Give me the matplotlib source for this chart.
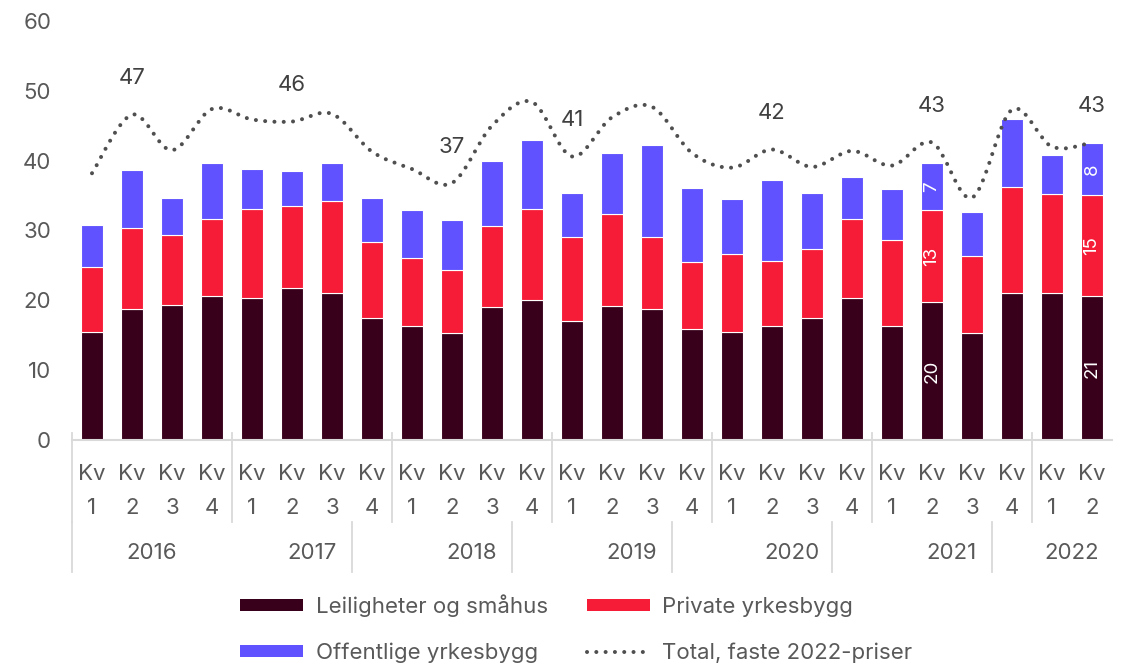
import numpy as np
import matplotlib
matplotlib.use('Agg')
import matplotlib.pyplot as plt
import matplotlib.transforms as mtransforms
from matplotlib.path import Path
from matplotlib.patches import PathPatch, Patch
from matplotlib.lines import Line2D

plt.rcParams['font.family'] = ['Inter', 'DejaVu Sans']

##===========================================
# Data (mrd. kr per kvartal)
##===========================================
years = ['2016', '2017', '2018', '2019', '2020', '2021', '2022']
quarters = [1, 2, 3, 4] * 6 + [1, 2]

leiligheter = [15.5, 18.8, 19.3, 20.6, 20.3, 21.8, 21.1, 17.5, 16.3, 15.3, 19.0, 20.0, 17.1,
               19.2, 18.7, 15.9, 15.5, 16.3, 17.4, 20.3, 16.3, 19.7, 15.3, 21.1, 21.0, 20.55]
private = [9.3, 11.6, 10.1, 11.0, 12.8, 11.7, 13.1, 10.8, 9.7, 9.1, 11.6, 13.1, 12.0,
           13.1, 10.3, 9.6, 11.1, 9.3, 9.9, 11.4, 12.3, 13.2, 11.1, 15.2, 14.2, 14.51]
offentlige = [6.0, 8.3, 5.3, 8.0, 5.7, 5.0, 5.4, 6.3, 6.9, 7.1, 9.4, 9.8, 6.3,
              8.8, 13.2, 10.6, 7.9, 11.7, 8.0, 5.9, 7.4, 6.7, 6.3, 9.6, 5.6, 7.5]
total_faste = [38.2, 46.6, 41.5, 47.4, 45.9, 45.6, 46.7, 41.3, 38.8, 36.8, 45.0, 48.4, 40.6,
               46.2, 47.7, 41.1, 39.0, 41.6, 39.1, 41.4, 39.3, 42.6, 34.7, 47.3, 42.0, 42.6]

total_label_idx = [1, 5, 9, 12, 17, 21, 25]
segment_label_idx = [21, 25]

labels = ['Leiligheter og småhus', 'Private yrkesbygg', 'Offentlige yrkesbygg',
          'Total, faste 2022-priser']
c_dark = '#38001a'
c_red = '#f61c37'
c_blue = '#6053ff'
c_line = '#4f4f4f'
c_text = '#595959'
c_grid = '#d9d9d9'
fs = 16

##===========================================
# Figure
##===========================================
fig = plt.figure(figsize=(11.32, 6.68), dpi=100)
ax = fig.add_axes([72 / 1132, 1 - 440 / 668, (1112 - 72) / 1132, (440 - 21) / 668])

x = np.arange(len(quarters))
d1 = np.array(leiligheter)
d2 = np.array(private)
d3 = np.array(offentlige)
width = 0.57

p1 = ax.bar(x, d1, width, color=c_dark, edgecolor='white', linewidth=0.8)
p2 = ax.bar(x, d2, width, bottom=d1, color=c_red, edgecolor='white', linewidth=0.8)
p3 = ax.bar(x, d3, width, bottom=d1 + d2, color=c_blue, edgecolor='white', linewidth=0.8)

# smoothed dotted total line (bezier through the points)
tot = np.array(total_faste)
pts = np.column_stack([x, tot])
verts = [pts[0]]
codes = [Path.MOVETO]
n = len(pts)
for i in range(n - 1):
    p0 = pts[max(i - 1, 0)]
    pa = pts[i]
    pb = pts[i + 1]
    p3_ = pts[min(i + 2, n - 1)]
    c1 = pa + (pb - p0) / 6.0
    c2 = pb - (p3_ - pa) / 6.0
    verts += [c1, c2, pb]
    codes += [Path.CURVE4] * 3
line_patch = PathPatch(Path(verts, codes), fill=False, edgecolor=c_line, linewidth=2.9,
                       linestyle=(0, (0.01, 2.3)), capstyle='round', zorder=4)
ax.add_patch(line_patch)

for i in total_label_idx:
    ax.annotate(f'{total_faste[i]:.0f}', xy=(x[i], total_faste[i]), xytext=(0, 26),
                textcoords='offset points', ha='center', va='center',
                fontsize=fs, color='#404040')

for i in segment_label_idx:
    ax.text(x[i], d1[i] / 2, f'{d1[i]:.0f}', rotation=90, ha='center', va='center',
            color='white', fontsize=13.5)
    ax.text(x[i], d1[i] + d2[i] / 2, f'{d2[i]:.0f}', rotation=90, ha='center', va='center',
            color='white', fontsize=13.5)
    ax.text(x[i], d1[i] + d2[i] + d3[i] / 2, f'{d3[i]:.0f}', rotation=90, ha='center',
            va='center', color='white', fontsize=13.5)

ax.set_xlim(-0.5, len(quarters) - 0.5)
ax.set_ylim(0, 60)
ax.set_yticks(np.arange(0, 61, 10))
ax.tick_params(axis='y', length=0, pad=15, labelsize=fs, labelcolor=c_text)
ax.set_xticks(x)
ax.set_xticklabels([f'Kv\n{q}' for q in quarters], linespacing=1.9)
ax.tick_params(axis='x', length=0, pad=17, labelsize=fs, labelcolor=c_text)

for s in ['top', 'right', 'left']:
    ax.spines[s].set_visible(False)
ax.spines['bottom'].set_color(c_grid)
ax.spines['bottom'].set_linewidth(1.5)

# multi-level category separators
trans = mtransforms.blended_transform_factory(ax.transData, ax.transAxes)
ah = 419.0
for xs in [-0.5, 3.5, 7.5, 11.5, 15.5, 19.5, 23.5]:
    ax.add_line(Line2D([xs, xs], [7 / ah, -82 / ah], transform=trans, color=c_grid,
                       linewidth=1.3, clip_on=False))
for xs in [-0.5, 6.5, 10.5, 14.5, 18.5, 22.5]:
    ax.add_line(Line2D([xs, xs], [-82 / ah, -132 / ah], transform=trans, color=c_grid,
                       linewidth=1.3, clip_on=False))

year_idx = np.cumsum([0] + [4] * 6)
for k, yr in enumerate(years):
    nq = 4 if k < 6 else 2
    xc = year_idx[k] + (nq - 1) / 2
    ax.text(xc, -113 / ah, yr, transform=trans, ha='center', va='center',
            fontsize=fs, color=c_text)

handles = [Patch(facecolor=c_dark), Patch(facecolor=c_blue),
           Patch(facecolor=c_red),
           Line2D([], [], color=c_line, linewidth=2.9, linestyle=(0, (0.01, 2.3)),
                  dash_capstyle='round')]
fig.legend(handles, [labels[0], labels[2], labels[1], labels[3]], ncol=2,
           loc='upper left', bbox_to_anchor=(240 / 1132, 1 - 594 / 668), frameon=False,
           fontsize=fs, labelcolor=c_text, handlelength=2.85, handleheight=0.45,
           handletextpad=0.55, columnspacing=1.75, labelspacing=1.15,
           borderpad=0, borderaxespad=0)

plt.savefig('out.png', dpi=100)
